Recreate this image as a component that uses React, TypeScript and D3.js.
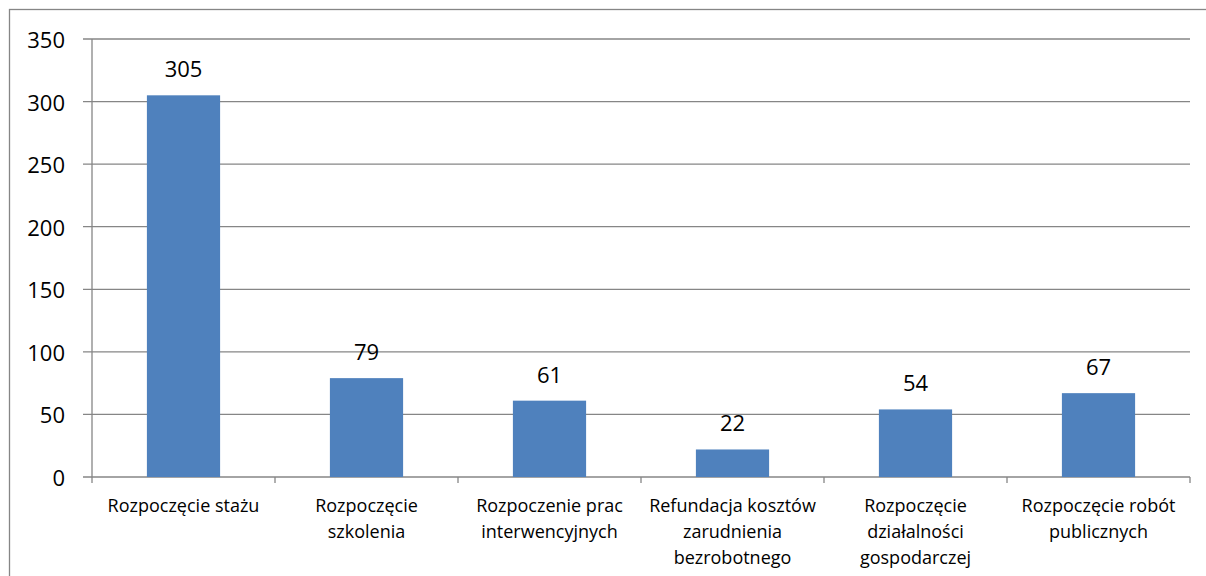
import React from "react";
import * as d3 from "d3";

const categories: string[][] = [
  ["Rozpoczęcie stażu"],
  ["Rozpoczęcie", "szkolenia"],
  ["Rozpoczenie prac", "interwencyjnych"],
  ["Refundacja kosztów", "zarudnienia", "bezrobotnego"],
  ["Rozpoczęcie", "działalności", "gospodarczej"],
  ["Rozpoczęcie robót", "publicznych"],
];
const values: number[] = [305, 79, 61, 22, 54, 67];
const yTicks: number[] = [0, 50, 100, 150, 200, 250, 300, 350];

const W = 1206;
const H = 576;
const left = 92;
const right = 1190;
const top = 39;
const bottom = 477;
const FONT = "'Open Sans', 'Noto Sans', sans-serif";
const GRID = "#868686";

export default function App() {
  const idx = categories.map((_, i) => String(i));
  const x = d3.scaleBand<string>().domain(idx).range([left, right]).paddingInner(0).paddingOuter(0);
  const y = d3.scaleLinear().domain([0, 350]).range([bottom, top]);
  const bw = x.bandwidth() / 2.5;

  return (
    <svg
      width={W}
      height={H}
      style={{ position: "fixed", left: 0, top: 0, background: "#fff" }}
      fontFamily={FONT}
    >
      <rect x={9.5} y={9.5} width={W + 10} height={H + 10} fill="#fff" stroke={GRID} strokeWidth={1.3} />
      {yTicks.map((t) => (
        <g key={t}>
          <line x1={left - 9} x2={right} y1={y(t)} y2={y(t)} stroke={GRID} strokeWidth={1.3} />
          <text x={65} y={y(t)} textAnchor="end" dominantBaseline="central" fontSize={22} fill="#000">
            {t}
          </text>
        </g>
      ))}
      <line x1={left} x2={left} y1={top} y2={bottom} stroke={GRID} strokeWidth={1.3} />
      {idx.concat([String(idx.length)]).map((k, i) => {
        const xx = i < idx.length ? (x(k) as number) : right;
        return <line key={"t" + i} x1={xx} x2={xx} y1={bottom} y2={bottom + 6} stroke={GRID} strokeWidth={1.3} />;
      })}
      {values.map((v, i) => {
        const cx = (x(String(i)) as number) + x.bandwidth() / 2;
        return (
          <g key={"b" + i}>
            <rect x={cx - bw / 2} y={y(v)} width={bw} height={y(0) - y(v)} fill="#4F81BD" />
            <text x={cx} y={y(v) - 27} textAnchor="middle" dominantBaseline="central" fontSize={22} fill="#000">
              {v}
            </text>
          </g>
        );
      })}
      {categories.map((lines, i) => {
        const cx = (x(String(i)) as number) + x.bandwidth() / 2;
        return (
          <text key={"c" + i} textAnchor="middle" fontSize={18} fill="#000">
            {lines.map((ln, j) => (
              <tspan key={j} x={cx} y={505 + j * 26} dominantBaseline="central">
                {ln}
              </tspan>
            ))}
          </text>
        );
      })}
    </svg>
  );
}
